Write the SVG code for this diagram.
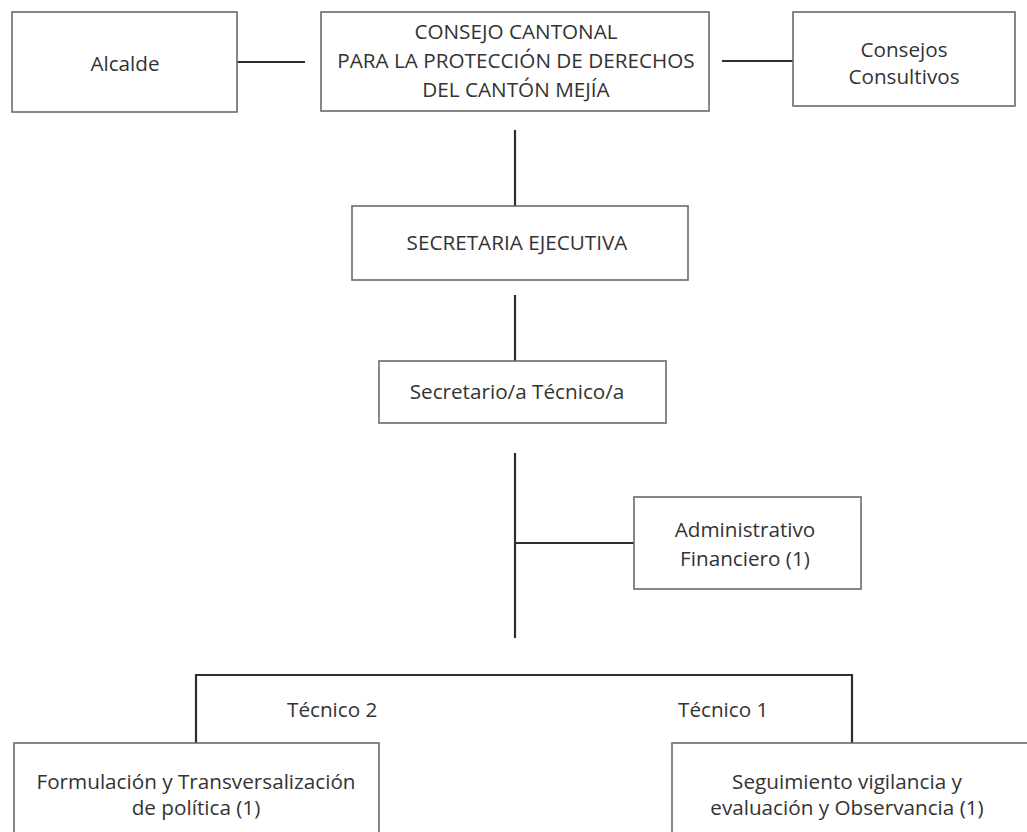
<svg xmlns="http://www.w3.org/2000/svg" width="1027" height="832" viewBox="0 0 1027 832">
<style>
  .box { fill: #ffffff; stroke: #6a6a6a; stroke-width: 1.6; }
  .ln { fill: none; stroke: #2e2e2e; stroke-width: 2.2; }
  text { font-family: "Open Sans", "Liberation Sans", sans-serif; font-size: 20.7px; fill: #333333; text-anchor: middle; }
  .lbl { text-anchor: start; }
</style>
<rect width="1027" height="832" fill="#ffffff"/>
<g id="connectors">
  <line class="ln" x1="237" y1="62" x2="305" y2="62"/>
  <line class="ln" x1="722" y1="61" x2="793" y2="61"/>
  <line class="ln" x1="515" y1="130" x2="515" y2="206"/>
  <line class="ln" x1="515" y1="295" x2="515" y2="361"/>
  <line class="ln" x1="515" y1="453" x2="515" y2="638"/>
  <line class="ln" x1="515" y1="543" x2="634" y2="543"/>
  <polyline class="ln" points="196,743 196,675 852,675 852,743"/>
</g>
<g id="alcalde">
  <rect class="box" x="12" y="12" width="225" height="100"/>
  <text x="125" y="71">Alcalde</text>
</g>
<g id="consejo">
  <rect class="box" x="321" y="12" width="388" height="99"/>
  <text x="516" y="39">CONSEJO CANTONAL</text>
  <text x="516" y="68">PARA LA PROTECCIÓN DE DERECHOS</text>
  <text x="516" y="97">DEL CANTÓN MEJÍA</text>
</g>
<g id="consultivos">
  <rect class="box" x="793" y="12" width="222" height="94"/>
  <text x="904" y="57">Consejos</text>
  <text x="904" y="84">Consultivos</text>
</g>
<g id="secretaria">
  <rect class="box" x="352" y="206" width="336" height="74"/>
  <text x="517" y="250">SECRETARIA EJECUTIVA</text>
</g>
<g id="secretario">
  <rect class="box" x="379" y="361" width="287" height="62"/>
  <text x="517" y="399">Secretario/a Técnico/a</text>
</g>
<g id="administrativo">
  <rect class="box" x="634" y="497" width="227" height="92"/>
  <text x="745" y="537">Administrativo</text>
  <text x="745" y="566">Financiero (1)</text>
</g>
<g id="tecnico2">
  <text class="lbl" x="287" y="717">Técnico 2</text>
  <rect class="box" x="14" y="743" width="365" height="100"/>
  <text x="196" y="789">Formulación y Transversalización</text>
  <text x="196" y="815">de política (1)</text>
</g>
<g id="tecnico1">
  <text class="lbl" x="678" y="717">Técnico 1</text>
  <rect class="box" x="672" y="743" width="370" height="100"/>
  <text x="847" y="789">Seguimiento vigilancia y</text>
  <text x="847" y="815">evaluación y Observancia (1)</text>
</g>
</svg>
